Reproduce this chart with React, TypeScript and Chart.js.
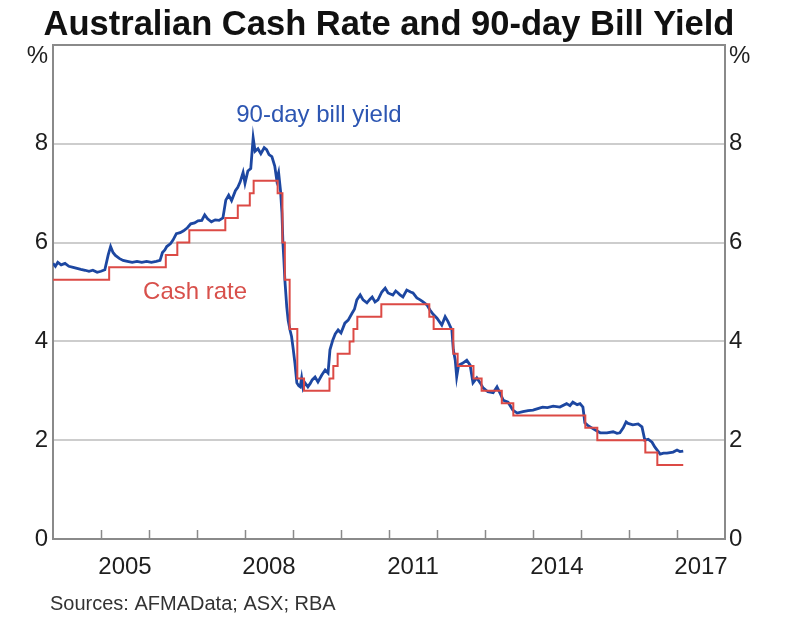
import React, { useEffect, useRef } from 'react';
import { Chart, registerables } from 'chart.js';

Chart.register(...registerables);

const FONT = '"Liberation Sans", Arial, Helvetica, sans-serif';

const titleText = 'Australian Cash Rate and 90-day Bill Yield';
const sourceText = 'Sources: AFMAData; ASX; RBA';
const billLabel = '90-day bill yield';
const cashLabel = 'Cash rate';
const unitLabel = '%';

const xMin = 2004;
const xMax = 2018;
const xLabelYears = [2005, 2008, 2011, 2014, 2017];
const xTickYears = [2005, 2006, 2007, 2008, 2009, 2010, 2011, 2012, 2013, 2014, 2015, 2016, 2017];
const yMin = 0;
const yMax = 10;
const yStep = 2;

// Label anchor positions in data units
const billLabelPos = { x: 2009.54, y: 8.58 };
const cashLabelPos = { x: 2006.96, y: 5.0 };

// RBA cash rate target (change dates as decimal years)
const cashDates = [
  2004.0, 2005.17, 2006.35, 2006.59, 2006.84, 2007.59, 2007.85, 2008.1, 2008.18,
  2008.68, 2008.78, 2008.83, 2008.93, 2009.09, 2009.23, 2009.76, 2009.84, 2009.93,
  2010.18, 2010.26, 2010.34, 2010.84, 2011.84, 2011.93, 2012.34, 2012.43, 2012.76,
  2012.93, 2013.35, 2013.59, 2015.09, 2015.34, 2016.34, 2016.59, 2017.13,
];
const cashValues = [
  5.25, 5.5, 5.75, 6.0, 6.25, 6.5, 6.75, 7.0, 7.25,
  7.0, 6.0, 5.25, 4.25, 3.25, 3.0, 3.25, 3.5, 3.75,
  4.0, 4.25, 4.5, 4.75, 4.5, 4.25, 3.75, 3.5, 3.25,
  3.0, 2.75, 2.5, 2.25, 2.0, 1.75, 1.5, 1.5,
];

// 90-day bank bill yield
const billDates = [
  2004.0, 2004.05, 2004.1, 2004.17, 2004.25, 2004.33, 2004.42, 2004.5, 2004.58, 2004.67,
  2004.75, 2004.83, 2004.92, 2005.0, 2005.08, 2005.15, 2005.2, 2005.25, 2005.3, 2005.38,
  2005.46, 2005.55, 2005.65, 2005.75, 2005.85, 2005.95, 2006.05, 2006.15, 2006.23, 2006.28,
  2006.33, 2006.37, 2006.45, 2006.5, 2006.57, 2006.65, 2006.72, 2006.8, 2006.87, 2006.95,
  2007.02, 2007.1, 2007.16, 2007.22, 2007.3, 2007.38, 2007.46, 2007.54, 2007.6, 2007.66,
  2007.72, 2007.8, 2007.85, 2007.9, 2007.96, 2008.0, 2008.06, 2008.12, 2008.17, 2008.21,
  2008.27, 2008.33, 2008.4, 2008.45, 2008.5, 2008.56, 2008.62, 2008.66, 2008.7, 2008.74,
  2008.77, 2008.79, 2008.81, 2008.83, 2008.87, 2008.9, 2008.94, 2008.97, 2009.0, 2009.04,
  2009.08, 2009.12, 2009.15, 2009.18, 2009.21, 2009.25, 2009.31, 2009.36, 2009.4, 2009.46,
  2009.52, 2009.6, 2009.67, 2009.73, 2009.77, 2009.83, 2009.88, 2009.94, 2010.0, 2010.08,
  2010.15, 2010.23, 2010.28, 2010.33, 2010.4, 2010.46, 2010.54, 2010.6, 2010.65, 2010.71,
  2010.77, 2010.85, 2010.92, 2010.98, 2011.08, 2011.14, 2011.19, 2011.23, 2011.29, 2011.37,
  2011.45, 2011.5, 2011.58, 2011.65, 2011.71, 2011.79, 2011.85, 2011.92, 2012.0, 2012.1,
  2012.17, 2012.23, 2012.31, 2012.34, 2012.38, 2012.41, 2012.45, 2012.54, 2012.62, 2012.69,
  2012.75, 2012.83, 2012.9, 2012.96, 2013.06, 2013.17, 2013.25, 2013.31, 2013.38, 2013.48,
  2013.58, 2013.67, 2013.79, 2013.9, 2014.0, 2014.1, 2014.2, 2014.3, 2014.42, 2014.56,
  2014.7, 2014.77, 2014.83, 2014.92, 2014.98, 2015.04, 2015.08, 2015.14, 2015.19, 2015.29,
  2015.4, 2015.54, 2015.67, 2015.75, 2015.81, 2015.88, 2015.94, 2015.98, 2016.08, 2016.19,
  2016.27, 2016.33, 2016.4, 2016.48, 2016.54, 2016.65, 2016.72, 2016.79, 2016.92, 2017.0,
  2017.06, 2017.13,
];
const billValues = [
  5.58, 5.52, 5.6, 5.55, 5.58, 5.52, 5.5, 5.48, 5.46, 5.44,
  5.42, 5.44, 5.4, 5.42, 5.45, 5.75, 5.92, 5.8, 5.74, 5.68,
  5.64, 5.62, 5.6, 5.62, 5.6, 5.62, 5.6, 5.62, 5.64, 5.8,
  5.85, 5.92, 5.98, 6.05, 6.18, 6.2, 6.24, 6.3, 6.38, 6.4,
  6.44, 6.45, 6.56, 6.48, 6.42, 6.46, 6.45, 6.5, 6.86, 6.96,
  6.85, 7.05, 7.12, 7.23, 7.42, 7.2, 7.45, 7.5, 8.12, 7.85,
  7.9, 7.8, 7.92, 7.88, 7.78, 7.74, 7.55, 7.28, 7.42, 7.05,
  6.6, 6.0, 5.65, 5.25, 4.7, 4.42, 4.22, 4.1, 3.88, 3.56,
  3.16, 3.1, 3.08, 3.26, 3.06, 3.16, 3.08, 3.15, 3.22, 3.28,
  3.18, 3.32, 3.42, 3.36, 3.83, 4.03, 4.15, 4.23, 4.17, 4.37,
  4.43, 4.57, 4.65, 4.84, 4.94, 4.84, 4.78, 4.85, 4.9, 4.8,
  4.84, 5.0, 5.08, 4.98, 4.94, 5.02, 4.98, 4.94, 4.9, 5.04,
  5.0, 4.98, 4.88, 4.84, 4.8, 4.74, 4.64, 4.55, 4.47, 4.33,
  4.5, 4.4, 4.23, 3.83, 3.62, 3.28, 3.52, 3.56, 3.62, 3.52,
  3.16, 3.26, 3.16, 3.06, 2.98, 2.96, 3.08, 2.96, 2.81, 2.77,
  2.61, 2.55, 2.58, 2.6, 2.61, 2.64, 2.67, 2.66, 2.69, 2.67,
  2.74, 2.7, 2.77, 2.72, 2.74, 2.67, 2.35, 2.3, 2.27, 2.21,
  2.15, 2.15, 2.17, 2.14, 2.15, 2.25, 2.37, 2.34, 2.31, 2.33,
  2.27, 2.0, 2.02, 1.96, 1.86, 1.72, 1.74, 1.74, 1.76, 1.8,
  1.77, 1.78,
];

const BLUE = '#1d47a1';
const RED = '#dc4a45';
const BLUE_TEXT = '#2d56b2';
const RED_TEXT = '#d8504b';
const AXIS = '#8a8a8a';
const GRID = '#cdcdcd';
const TEXT = '#1e1e1e';

const decorPlugin = {
  id: 'decor',
  afterDraw(chart: any) {
    const { ctx, chartArea, scales } = chart;
    const xs = scales.x;
    const ys = scales.y;
    ctx.save();

    // inward year tick marks
    ctx.strokeStyle = AXIS;
    ctx.lineWidth = 1.5;
    xTickYears.forEach((yr) => {
      const px = Math.round(xs.getPixelForValue(yr)) + 0.5;
      ctx.beginPath();
      ctx.moveTo(px, chartArea.bottom);
      ctx.lineTo(px, chartArea.bottom - 9);
      ctx.stroke();
    });

    // title
    ctx.fillStyle = '#111111';
    ctx.font = `bold 34.5px ${FONT}`;
    ctx.textAlign = 'center';
    ctx.textBaseline = 'alphabetic';
    ctx.fillText(titleText, (chartArea.left + chartArea.right) / 2, 35);

    // units
    ctx.font = `24px ${FONT}`;
    ctx.fillStyle = TEXT;
    ctx.textBaseline = 'middle';
    ctx.textAlign = 'right';
    ctx.fillText(unitLabel, chartArea.left - 5, chartArea.top + 11);
    ctx.textAlign = 'left';
    ctx.fillText(unitLabel, chartArea.right + 4, chartArea.top + 11);

    // series labels
    ctx.textAlign = 'center';
    ctx.fillStyle = BLUE_TEXT;
    ctx.fillText(billLabel, xs.getPixelForValue(billLabelPos.x), ys.getPixelForValue(billLabelPos.y));
    ctx.fillStyle = RED_TEXT;
    ctx.fillText(cashLabel, xs.getPixelForValue(cashLabelPos.x), ys.getPixelForValue(cashLabelPos.y));

    // sources
    ctx.font = `20px ${FONT}`;
    ctx.fillStyle = '#333333';
    ctx.textAlign = 'left';
    ctx.textBaseline = 'alphabetic';
    ctx.fillText(sourceText, 50, 610);

    ctx.restore();
  },
};

export default function App() {
  const canvasRef = useRef<HTMLCanvasElement | null>(null);

  useEffect(() => {
    document.body.style.margin = '0';
    const canvas = canvasRef.current;
    if (!canvas) return;

    const billData = billDates.map((d, i) => ({ x: d, y: billValues[i] }));
    const cashData = cashDates.map((d, i) => ({ x: d, y: cashValues[i] }));

    const yTickCallback = (v: any) => (Number(v) === yMax ? '' : String(v));

    const chart = new Chart(canvas, {
      type: 'line',
      data: {
        datasets: [
          {
            label: cashLabel,
            data: cashData,
            borderColor: RED,
            borderWidth: 2,
            stepped: true,
            pointRadius: 0,
            fill: false,
          },
          {
            label: billLabel,
            data: billData,
            borderColor: BLUE,
            borderWidth: 2.8,
            tension: 0,
            pointRadius: 0,
            fill: false,
          },
        ],
      },
      options: {
        animation: false,
        responsive: false,
        devicePixelRatio: 1,
        layout: { padding: { top: 45, left: 0, right: 0, bottom: 0 } },
        plugins: {
          legend: { display: false },
          tooltip: { enabled: false },
          title: { display: false },
        },
        scales: {
          x: {
            type: 'linear',
            min: xMin,
            max: xMax,
            afterBuildTicks: (scale: any) => {
              scale.ticks = xLabelYears.map((y) => ({ value: y + 0.5 }));
            },
            afterFit: (scale: any) => {
              scale.height = 79;
            },
            grid: { display: false, drawTicks: false },
            border: { display: true, color: AXIS, width: 2 },
            ticks: {
              autoSkip: false,
              maxRotation: 0,
              padding: 14,
              color: TEXT,
              font: { family: FONT, size: 24 },
              callback: (v: any) => String(Math.floor(Number(v))),
            },
          },
          y: {
            type: 'linear',
            position: 'left',
            min: yMin,
            max: yMax,
            afterFit: (scale: any) => {
              scale.width = 53;
            },
            grid: {
              drawTicks: false,
              lineWidth: 2,
              color: (c: any) =>
                c.tick && c.tick.value === yMax ? AXIS : c.tick && c.tick.value === yMin ? 'rgba(0,0,0,0)' : GRID,
            },
            border: { display: true, color: AXIS, width: 2 },
            ticks: {
              stepSize: yStep,
              padding: 5,
              color: TEXT,
              font: { family: FONT, size: 24 },
              callback: yTickCallback,
            },
          },
          y2: {
            type: 'linear',
            position: 'right',
            min: yMin,
            max: yMax,
            afterFit: (scale: any) => {
              scale.width = 75;
            },
            grid: { drawOnChartArea: false, drawTicks: false },
            border: { display: true, color: AXIS, width: 2 },
            ticks: {
              stepSize: yStep,
              padding: 4,
              color: TEXT,
              font: { family: FONT, size: 24 },
              callback: yTickCallback,
            },
          },
        },
      },
      plugins: [decorPlugin],
    });

    return () => {
      chart.destroy();
    };
  }, []);

  return (
    <div style={{ position: 'relative', width: 800, height: 618 }}>
      <canvas ref={canvasRef} width={800} height={618} style={{ width: 800, height: 618 }} />
    </div>
  );
}
